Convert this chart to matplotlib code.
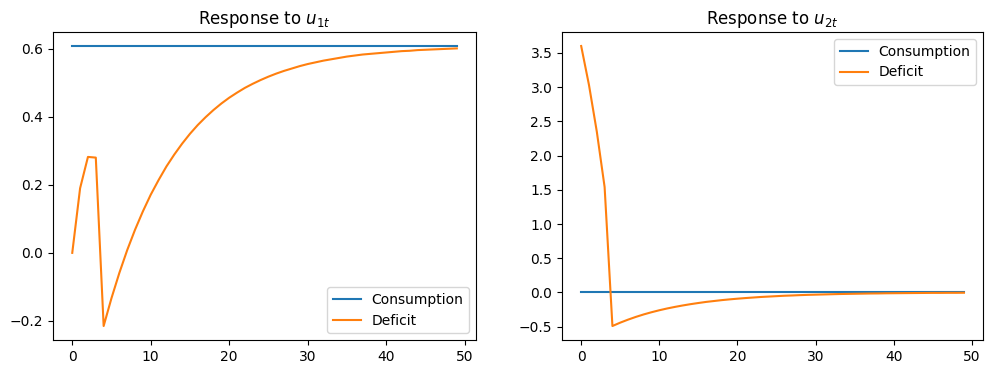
import matplotlib
matplotlib.use('Agg')
import matplotlib.pyplot as plt
import numpy as np

# impulse responses, periods 0..49
periods = np.arange(50)

cons_u1 = [0.608] * 50
deficit_u1 = [0.000, 0.190, 0.282, 0.280, -0.215, -0.133, -0.059, 0.008, 0.068, 0.122,
              0.171, 0.214, 0.254, 0.289, 0.321, 0.350, 0.376, 0.399, 0.420, 0.439,
              0.456, 0.471, 0.485, 0.497, 0.508, 0.518, 0.527, 0.535, 0.542, 0.549,
              0.555, 0.560, 0.565, 0.569, 0.573, 0.577, 0.580, 0.583, 0.585, 0.587,
              0.589, 0.591, 0.593, 0.594, 0.596, 0.597, 0.598, 0.599, 0.600, 0.601]

cons_u2 = [0.0] * 50
deficit_u2 = [3.600, 3.030, 2.350, 1.540, -0.490, -0.441, -0.397, -0.357, -0.321, -0.289,
              -0.260, -0.234, -0.211, -0.190, -0.171, -0.154, -0.138, -0.125, -0.112, -0.101,
              -0.091, -0.082, -0.074, -0.066, -0.060, -0.054, -0.048, -0.044, -0.039, -0.035,
              -0.032, -0.029, -0.026, -0.023, -0.021, -0.019, -0.017, -0.015, -0.014, -0.012,
              -0.011, -0.010, -0.009, -0.008, -0.007, -0.006, -0.006, -0.005, -0.005, -0.004]

fig = plt.figure(figsize=(9.93, 3.74), dpi=100)
ax1 = fig.add_axes([0.0534, 0.0909, 0.426, 0.8235])
ax2 = fig.add_axes([0.566, 0.0909, 0.424, 0.8235])

ax1.plot(periods, cons_u1, label='Consumption')
ax1.plot(periods, deficit_u1, label='Deficit')
ax1.set_title('Response to $u_{1t}$')
ax1.legend(loc='lower right')

ax2.plot(periods, cons_u2, label='Consumption')
ax2.plot(periods, deficit_u2, label='Deficit')
ax2.set_title('Response to $u_{2t}$')
ax2.legend(loc='upper right')

fig.savefig('out.png', dpi=100)
